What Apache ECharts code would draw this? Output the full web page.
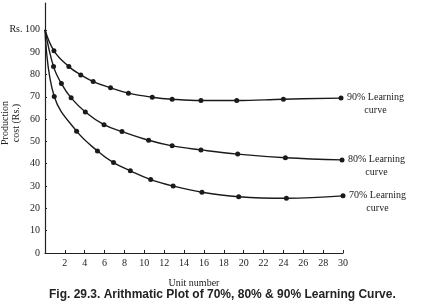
<!DOCTYPE html>
<html><head><meta charset="utf-8">
<script src="https://cdn.jsdelivr.net/npm/echarts@6/dist/echarts.min.js"></script>
<style>html,body{margin:0;padding:0;background:#fff}#c{width:423px;height:301px}</style>
</head><body><div id="c"></div>
<script>
// Learning curves: unit number (x) and production cost in Rs. (y)
var x90 = [0, 0.9, 2.4, 3.6, 4.85, 6.6, 8.4, 10.8, 12.8, 15.7, 19.3, 24.0, 29.8];
var y90 = [100, 90.6, 83.5, 79.8, 76.8, 74.0, 71.6, 69.8, 68.9, 68.3, 68.3, 68.9, 69.4];
var x80 = [0, 0.86, 1.65, 2.63, 4.06, 5.94, 7.75, 10.43, 12.8, 15.7, 19.4, 24.2, 29.9];
var y80 = [100, 83.5, 75.9, 69.5, 63.2, 57.5, 54.4, 50.5, 48.0, 46.2, 44.3, 42.7, 41.7];
var x70 = [0, 0.93, 3.18, 5.28, 6.9, 8.59, 10.64, 12.9, 15.8, 19.5, 24.3, 30.0];
var y70 = [100, 70.1, 54.6, 45.7, 40.5, 36.8, 32.9, 30.0, 27.2, 25.2, 24.5, 25.6];
var seriesNames = ['90%', '80%', '70%'];
var yTicks = [0, 10, 20, 30, 40, 50, 60, 70, 80, 90, 100];
var xTicks = [2, 4, 6, 8, 10, 12, 14, 16, 18, 20, 22, 24, 26, 28, 30];

function pairs(xs, ys) {
  return xs.map(function (x, i) {
    var item = { value: [x, ys[i]] };
    if (i === 0) item.symbol = 'none';
    return item;
  });
}
var serif = 'Liberation Serif';
function mk(name, xs, ys) {
  return {
    name: name, type: 'line', smooth: 0.4,
    data: pairs(xs, ys),
    symbol: 'circle', symbolSize: 5,
    itemStyle: { color: '#1a1a1a' },
    lineStyle: { color: '#1a1a1a', width: 1.4 },
    endLabel: {
      show: true, distance: 6,
      formatter: '{a|' + name + ' Learning}\n{b|curve}',
      rich: {
        a: { fontFamily: serif, fontSize: 10, color: '#222', lineHeight: 13 },
        b: { fontFamily: serif, fontSize: 10, color: '#222', lineHeight: 13, align: 'center' }
      },
      offset: [0, 6]
    },
    animation: false
  };
}
var chart = echarts.init(document.getElementById('c'));
chart.setOption({
  backgroundColor: '#fff',
  animation: false,
  title: {
    text: 'Fig. 29.3. Arithmatic Plot of 70%, 80% & 90% Learning Curve.',
    left: 44, top: 284,
    textStyle: { fontFamily: 'Liberation Sans', fontWeight: 'bold', fontSize: 12, color: '#222' }
  },
  grid: { left: 45, right: 80, top: 3, bottom: 48, containLabel: false, outerBoundsMode: 'none' },
  xAxis: {
    type: 'value', min: 0, max: 30, interval: 2,
    name: 'Unit number', nameLocation: 'middle', nameGap: 25,
    nameTextStyle: { fontFamily: serif, fontSize: 10, color: '#222' },
    axisLine: { lineStyle: { color: '#222', width: 1.2 } },
    axisTick: { inside: true, length: 3, lineStyle: { color: '#222' }, customValues: xTicks },
    axisLabel: { fontFamily: serif, fontSize: 10, color: '#222', margin: 5, customValues: xTicks },
    splitLine: { show: false }
  },
  yAxis: {
    type: 'value', min: 0, max: 112,
    name: 'Production\ncost (Rs.)', nameLocation: 'middle', nameRotate: 90, nameGap: 23,
    nameMoveOverlap: false,
    nameTextStyle: { fontFamily: serif, fontSize: 10, color: '#222', lineHeight: 11, padding: [0, 0, 0, 10] },
    axisLine: { show: true, lineStyle: { color: '#222', width: 1.2 } },
    axisTick: { show: true, inside: true, length: 2, lineStyle: { color: '#222' }, customValues: yTicks },
    axisLabel: {
      fontFamily: serif, fontSize: 10, color: '#222', margin: 5, customValues: yTicks,
      formatter: function (v) { return v === 100 ? 'Rs. 100' : String(v); }
    },
    splitLine: { show: false }
  },
  series: [mk(seriesNames[0], x90, y90), mk(seriesNames[1], x80, y80), mk(seriesNames[2], x70, y70)]
});
</script>
</body></html>
